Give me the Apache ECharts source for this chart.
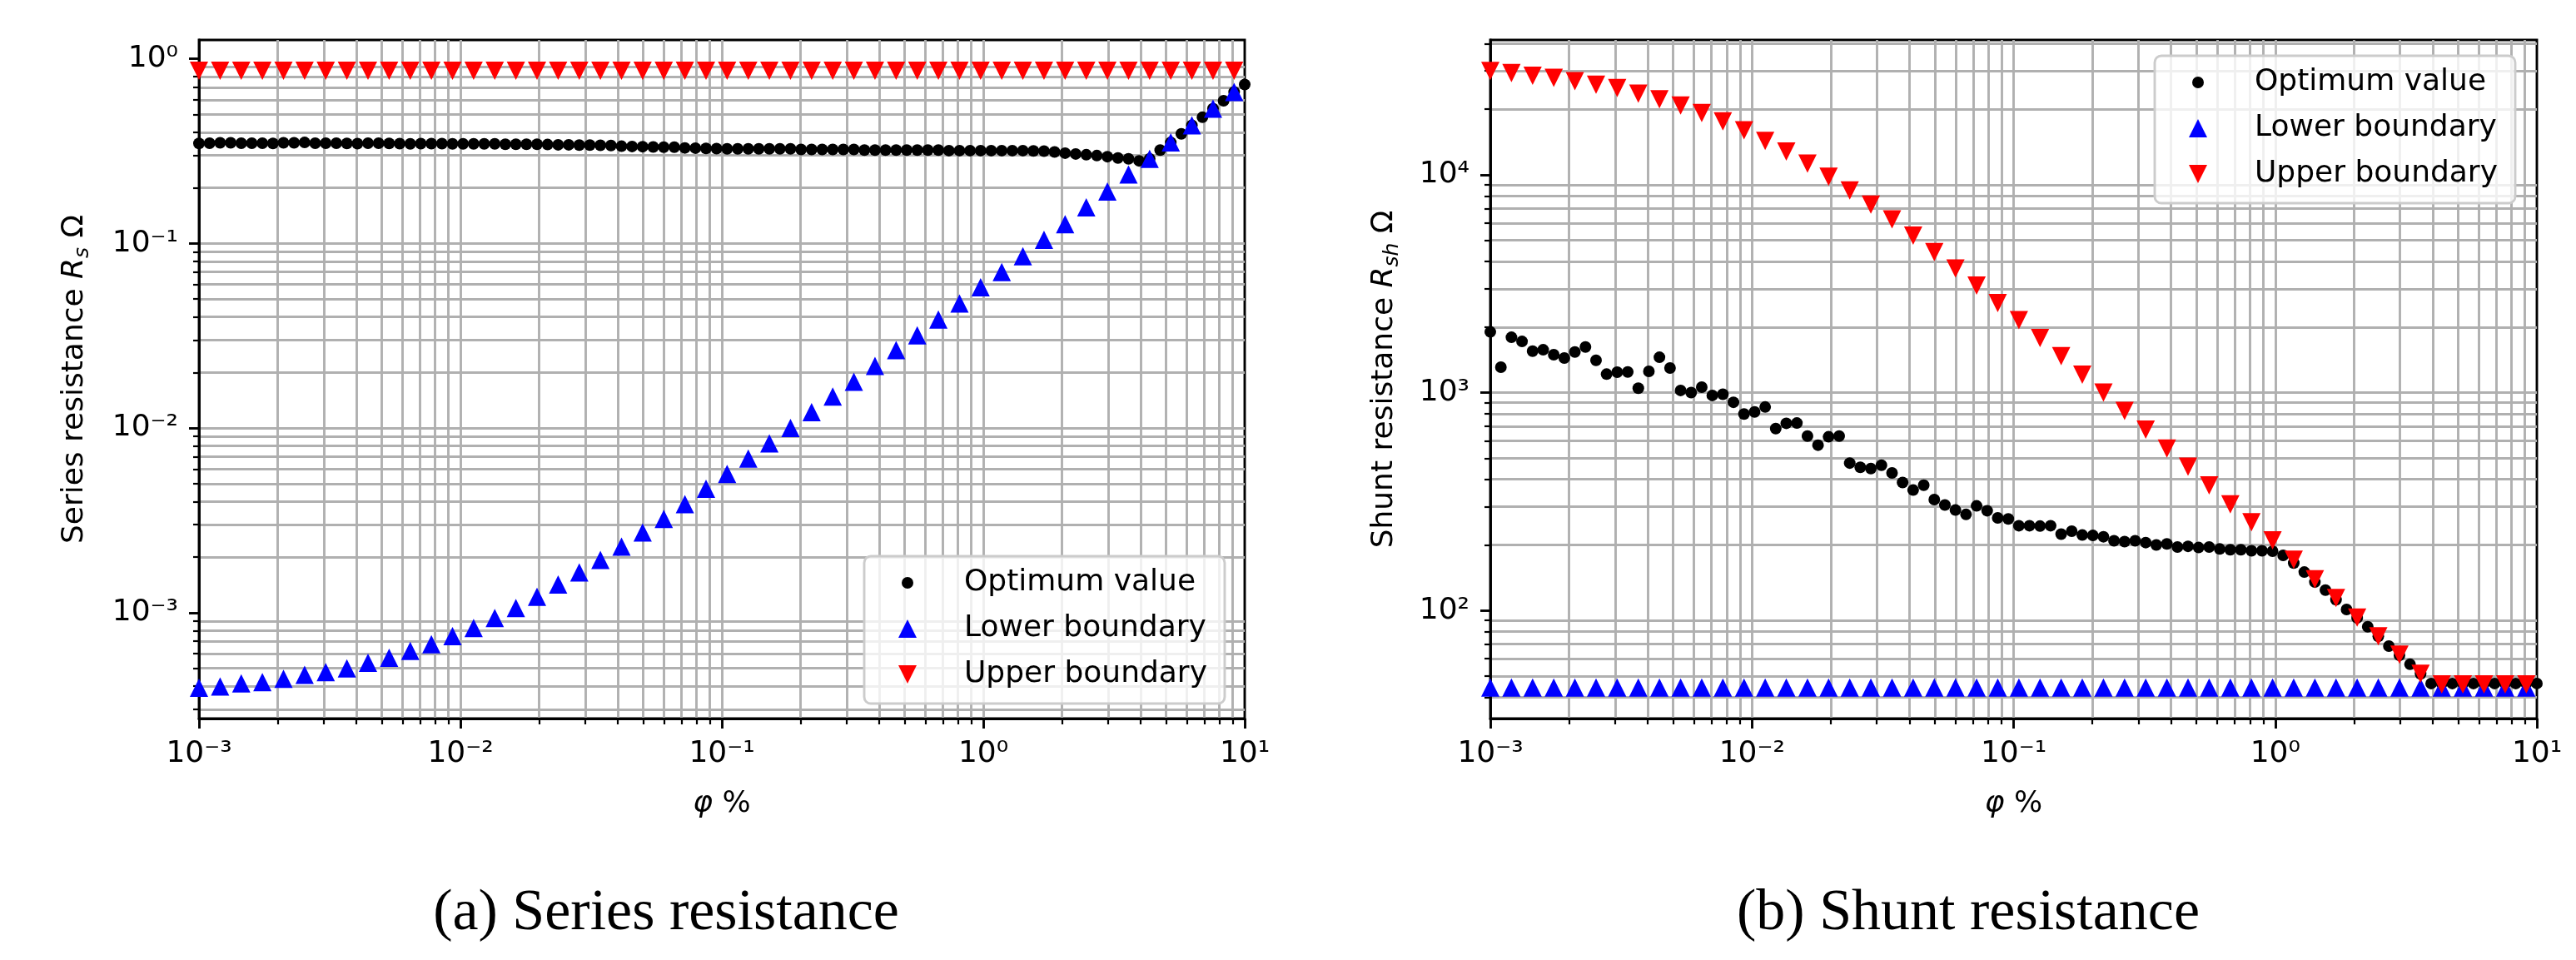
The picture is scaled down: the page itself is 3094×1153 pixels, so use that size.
<!DOCTYPE html>
<html>
<head>
<meta charset="utf-8">
<title>Series and shunt resistance</title>
<script src="https://cdn.jsdelivr.net/npm/echarts@6/dist/echarts.min.js"></script>
<style>
  html, body { margin: 0; padding: 0; background: #fff; }
  #chart { width: 3094px; height: 1153px; }
</style>
</head>
<body>
<div id="chart"></div>
<script>
// phi grid (%), 100 points evenly spaced on the log axis
const phi = [
  0.001, 0.0010975, 0.0012045, 0.0013219, 0.0014508, 0.0015923, 0.0017475, 0.0019179, 0.0021049, 0.0023101,
  0.0025354, 0.0027826, 0.0030539, 0.0033516, 0.0036784, 0.004037, 0.0044306, 0.0048626, 0.0053367, 0.005857,
  0.0064281, 0.0070548, 0.0077426, 0.0084975, 0.009326, 0.010235, 0.011233, 0.012328, 0.01353, 0.01485,
  0.016298, 0.017886, 0.01963, 0.021544, 0.023645, 0.02595, 0.02848, 0.031257, 0.034305, 0.037649,
  0.04132, 0.045349, 0.04977, 0.054623, 0.059948, 0.065793, 0.072208, 0.079248, 0.086975, 0.095455,
  0.10476, 0.11498, 0.12619, 0.13849, 0.15199, 0.16681, 0.18307, 0.20092, 0.22051, 0.24201,
  0.26561, 0.2915, 0.31993, 0.35112, 0.38535, 0.42292, 0.46416, 0.50941, 0.55908, 0.61359,
  0.67342, 0.73907, 0.81113, 0.89022, 0.97701, 1.0723, 1.1768, 1.2915, 1.4175, 1.5557,
  1.7074, 1.8738, 2.0565, 2.257, 2.4771, 2.7186, 2.9837, 3.2745, 3.5938, 3.9442,
  4.3288, 4.7508, 5.214, 5.7224, 6.2803, 6.8926, 7.5646, 8.3022, 9.1116, 10
];
// boundaries are only marked on every second phi point
const phiTri = [
  0.001, 0.0012045, 0.0014508, 0.0017475, 0.0021049, 0.0025354, 0.0030539, 0.0036784, 0.0044306, 0.0053367,
  0.0064281, 0.0077426, 0.009326, 0.011233, 0.01353, 0.016298, 0.01963, 0.023645, 0.02848, 0.034305,
  0.04132, 0.04977, 0.059948, 0.072208, 0.086975, 0.10476, 0.12619, 0.15199, 0.18307, 0.22051,
  0.26561, 0.31993, 0.38535, 0.46416, 0.55908, 0.67342, 0.81113, 0.97701, 1.1768, 1.4175,
  1.7074, 2.0565, 2.4771, 2.9837, 3.5938, 4.3288, 5.214, 6.2803, 7.5646, 9.1116
];

// (a) series resistance
const rsOpt = [
  0.348, 0.349, 0.3505, 0.3505, 0.349, 0.349, 0.349, 0.348, 0.3505, 0.3505,
  0.352, 0.349, 0.349, 0.349, 0.348, 0.347, 0.349, 0.349, 0.348, 0.347,
  0.346, 0.347, 0.347, 0.347, 0.346, 0.346, 0.346, 0.346, 0.346, 0.3445,
  0.3445, 0.3445, 0.3445, 0.343, 0.342, 0.342, 0.341, 0.341, 0.340, 0.339,
  0.336, 0.335, 0.334, 0.333, 0.332, 0.332, 0.329, 0.328, 0.327, 0.326,
  0.325, 0.325, 0.325, 0.325, 0.325, 0.325, 0.325, 0.3225, 0.3225, 0.3225,
  0.3225, 0.3225, 0.3225, 0.320, 0.320, 0.320, 0.320, 0.320, 0.320, 0.320,
  0.320, 0.318, 0.318, 0.318, 0.318, 0.318, 0.318, 0.318, 0.318, 0.317,
  0.316, 0.3126, 0.3083, 0.305, 0.302, 0.299, 0.295, 0.290, 0.287, 0.280,
  0.287, 0.320, 0.352, 0.392, 0.436, 0.482, 0.537, 0.592, 0.661, 0.725
];
const rsLow = [
  3.92e-4, 3.98e-4, 4.14e-4, 4.21e-4, 4.38e-4, 4.60e-4, 4.76e-4, 4.99e-4, 5.36e-4, 5.70e-4,
  6.21e-4, 6.75e-4, 7.47e-4, 8.26e-4, 9.35e-4, 1.06e-3, 1.22e-3, 1.42e-3, 1.65e-3, 1.93e-3,
  2.28e-3, 2.72e-3, 3.22e-3, 3.87e-3, 4.69e-3, 5.64e-3, 6.83e-3, 8.26e-3, 1.00e-2, 1.22e-2,
  1.48e-2, 1.78e-2, 2.17e-2, 2.64e-2, 3.18e-2, 3.87e-2, 4.72e-2, 5.78e-2, 7.00e-2, 8.53e-2,
  0.1045, 0.127, 0.157, 0.191, 0.236, 0.287, 0.352, 0.436, 0.537, 0.661
];
const rsUp = [
  0.86, 0.86, 0.86, 0.86, 0.86, 0.86, 0.86, 0.86, 0.86, 0.86,
  0.86, 0.86, 0.86, 0.86, 0.86, 0.86, 0.86, 0.86, 0.86, 0.86,
  0.86, 0.86, 0.86, 0.86, 0.86, 0.86, 0.86, 0.86, 0.86, 0.86,
  0.86, 0.86, 0.86, 0.86, 0.86, 0.86, 0.86, 0.86, 0.86, 0.86,
  0.86, 0.86, 0.86, 0.86, 0.86, 0.86, 0.86, 0.86, 0.86, 0.86
];

// (b) shunt resistance
const rshOpt = [
  1901, 1309, 1795, 1718, 1550, 1573, 1493, 1442, 1537, 1620,
  1407, 1216, 1241, 1245, 1048, 1252, 1453, 1297, 1024, 1000,
  1060, 971, 983, 903, 798, 815, 859, 684, 723, 725,
  632, 574, 627, 632, 475, 454, 448, 464, 428, 387,
  357, 376, 323, 305, 289, 276, 302, 287, 266, 263,
  245, 245, 244, 245, 224, 231, 222, 221, 218, 209,
  207, 209, 205, 200, 202, 195.5, 197, 194.5, 195.5, 191.5,
  190, 190, 188, 188, 187, 179, 165, 150, 135, 124,
  112, 101, 92.4, 84.2, 76.0, 68.6, 62.3, 56.6, 51.2, 46.2,
  46.2, 46.2, 46.2, 46.2, 46.2, 46.2, 46.2, 46.2, 46.2, 46.2
];
const rshLow = [
  44.3, 44.3, 44.3, 44.3, 44.3, 44.3, 44.3, 44.3, 44.3, 44.3,
  44.3, 44.3, 44.3, 44.3, 44.3, 44.3, 44.3, 44.3, 44.3, 44.3,
  44.3, 44.3, 44.3, 44.3, 44.3, 44.3, 44.3, 44.3, 44.3, 44.3,
  44.3, 44.3, 44.3, 44.3, 44.3, 44.3, 44.3, 44.3, 44.3, 44.3,
  44.3, 44.3, 44.3, 44.3, 44.3, 44.3, 44.3, 44.3, 44.3, 44.3
];
const rshUp = [
  30000, 29300, 28500, 27900, 26900, 25900, 25000, 23600, 22200, 20800,
  19200, 17600, 16000, 14300, 12800, 11250, 9800, 8480, 7290, 6240,
  5260, 4420, 3710, 3100, 2580, 2150, 1780, 1470, 1210, 1000,
  824, 676, 554, 457, 375, 307, 254, 210, 171, 139,
  114, 92.7, 76.0, 62.7, 51.2, 45.8, 45.8, 45.8, 45.8, 45.8
];

// tick positions
const xMajor = [0.001, 0.01, 0.1, 1, 10];
const xMinor = [
  0.002, 0.003, 0.004, 0.005, 0.006, 0.007, 0.008, 0.009,
  0.02, 0.03, 0.04, 0.05, 0.06, 0.07, 0.08, 0.09,
  0.2, 0.3, 0.4, 0.5, 0.6, 0.7, 0.8, 0.9,
  2, 3, 4, 5, 6, 7, 8, 9
];
const rsMajor = [0.001, 0.01, 0.1, 1];
const rsMinor = [
  0.0003, 0.0004, 0.0005, 0.0006, 0.0007, 0.0008, 0.0009,
  0.002, 0.003, 0.004, 0.005, 0.006, 0.007, 0.008, 0.009,
  0.02, 0.03, 0.04, 0.05, 0.06, 0.07, 0.08, 0.09,
  0.2, 0.3, 0.4, 0.5, 0.6, 0.7, 0.8, 0.9
];
const rshMajor = [100, 1000, 10000];
const rshMinor = [
  40, 50, 60, 70, 80, 90,
  200, 300, 400, 500, 600, 700, 800, 900,
  2000, 3000, 4000, 5000, 6000, 7000, 8000, 9000,
  20000, 30000, 40000
];

const FONT = 'DejaVu Sans';
const GRID_GRAY = '#b0b0b0';
const SUP = { '-': '⁻', '0': '⁰', '1': '¹', '2': '²', '3': '³', '4': '⁴', '5': '⁵' };

function powLabel(v) {
  let e = String(Math.round(Math.log10(v)));
  return '10' + e.split('').map(c => SUP[c]).join('');
}

function pairs(xs, ys) {
  return xs.map((x, i) => [x, ys[i]]);
}

function majorAxis(extra) {
  return Object.assign({
    type: 'log',
    logBase: 10,
    axisLine: { show: true, lineStyle: { color: '#000', width: 2.9 } },
    axisTick: { show: true, length: 12, lineStyle: { color: '#000', width: 2.9 } },
    axisLabel: {
      show: true, margin: 25, formatter: powLabel,
      fontFamily: FONT, fontSize: 36, color: '#000'
    },
    splitLine: {
      show: true, showMinLine: false, showMaxLine: false,
      lineStyle: { color: GRID_GRAY, width: 2.9 }
    },
    minorTick: { show: false },
    minorSplitLine: { show: false }
  }, extra);
}

function minorAxis(extra) {
  return Object.assign({
    type: 'log',
    logBase: 10,
    axisLine: { show: false },
    axisTick: { show: true, length: 7, lineStyle: { color: '#000', width: 2.2 } },
    axisLabel: { show: false },
    splitLine: { show: true, lineStyle: { color: GRID_GRAY, width: 2.9 } },
    minorTick: { show: false },
    minorSplitLine: { show: false }
  }, extra);
}

function withTicks(axis, ticks, labels) {
  axis.axisTick.customValues = ticks;
  if (labels) axis.axisLabel.customValues = labels;
  return axis;
}

const xName = {
  name: '{i|φ} %',
  nameLocation: 'middle',
  nameGap: 85,
  nameTextStyle: {
    fontFamily: FONT, fontSize: 36, color: '#000',
    rich: { i: { fontFamily: FONT, fontSize: 36, fontStyle: 'italic', color: '#000' } }
  }
};

function yName(label, sub, gap) {
  return {
    name: label + ' {i|R}{s|' + sub + '} Ω',
    nameLocation: 'middle',
    nameGap: gap,
    nameTextStyle: {
      fontFamily: FONT, fontSize: 36, color: '#000',
      rich: {
        i: { fontFamily: FONT, fontSize: 36, fontStyle: 'italic', color: '#000' },
        s: { fontFamily: FONT, fontSize: 25, fontStyle: 'italic', color: '#000',
             verticalAlign: 'top', padding: [20, 0, 0, 0] }
      }
    }
  };
}

const DOWN = 'path://M0,0L2,0L1,2Z';
const ICON_DOT = 'path://M0,0M74,22M4,11A7,7,0,1,1,18,11A7,7,0,1,1,4,11Z';
const ICON_UP = 'path://M0,0M74,22M11,0L22,22L0,22Z';
const ICON_DOWN = 'path://M0,0M74,22M0,0L22,0L11,22Z';

function legendAt(left, top) {
  return {
    orient: 'vertical',
    left: left, top: top,
    padding: [14, 21, 17, 41],
    itemGap: 19,
    itemWidth: 74, itemHeight: 22,
    selectedMode: false,
    backgroundColor: 'rgba(255,255,255,0.8)',
    borderColor: '#cccccc', borderWidth: 2.9, borderRadius: 8,
    textStyle: { fontFamily: FONT, fontSize: 36, color: '#000' },
    data: [
      { name: 'Optimum value', icon: ICON_DOT },
      { name: 'Lower boundary', icon: ICON_UP },
      { name: 'Upper boundary', icon: ICON_DOWN }
    ]
  };
}

function scatterSet(xi, yi, opt, low, up) {
  return [
    { name: 'Optimum value', type: 'scatter', xAxisIndex: xi, yAxisIndex: yi,
      data: pairs(phi, opt), symbol: 'circle', symbolSize: 14,
      itemStyle: { color: '#000000', opacity: 1 } },
    { name: 'Lower boundary', type: 'scatter', xAxisIndex: xi, yAxisIndex: yi,
      data: pairs(phiTri, low), symbol: 'triangle', symbolSize: 22,
      itemStyle: { color: '#0000ff', opacity: 1 } },
    { name: 'Upper boundary', type: 'scatter', xAxisIndex: xi, yAxisIndex: yi,
      data: pairs(phiTri, up), symbol: DOWN, symbolSize: 22,
      itemStyle: { color: '#ff0000', opacity: 1 } }
  ];
}

const option = {
  backgroundColor: '#ffffff',
  animation: false,
  grid: [
    { left: 239, top: 48, width: 1256, height: 815, show: true,
      borderColor: '#000', borderWidth: 2.9, backgroundColor: 'transparent' },
    { left: 1790, top: 48, width: 1257, height: 815, show: true,
      borderColor: '#000', borderWidth: 2.9, backgroundColor: 'transparent' }
  ],
  xAxis: [
    withTicks(majorAxis(Object.assign({ gridIndex: 0, position: 'bottom', min: 0.001, max: 10 }, xName)), xMajor, xMajor),
    withTicks(minorAxis({ gridIndex: 0, position: 'bottom', min: 0.001, max: 10 }), xMinor),
    withTicks(majorAxis(Object.assign({ gridIndex: 1, position: 'bottom', min: 0.001, max: 10 }, xName)), xMajor, xMajor),
    withTicks(minorAxis({ gridIndex: 1, position: 'bottom', min: 0.001, max: 10 }), xMinor)
  ],
  yAxis: [
    withTicks(majorAxis(Object.assign({ gridIndex: 0, position: 'left', min: 2.67e-4, max: 1.264 },
      yName('Series resistance', 's', 127))), rsMajor, rsMajor),
    withTicks(minorAxis({ gridIndex: 0, position: 'left', min: 2.67e-4, max: 1.264 }), rsMinor),
    withTicks(majorAxis(Object.assign({ gridIndex: 1, position: 'left', min: 31.9, max: 41600 },
      yName('Shunt resistance', 'sh', 105))), rshMajor, rshMajor),
    withTicks(minorAxis({ gridIndex: 1, position: 'left', min: 31.9, max: 41600 }), rshMinor)
  ],
  legend: [legendAt(1038, 668), legendAt(2588, 67)],
  series: [].concat(
    scatterSet(0, 0, rsOpt, rsLow, rsUp),
    scatterSet(2, 2, rshOpt, rshLow, rshUp)
  ),
  graphic: [
    { type: 'text', x: 800, y: 1098, silent: true,
      style: { text: '(a) Series resistance', fontFamily: 'Liberation Serif', fontSize: 70,
               fill: '#000', align: 'center', verticalAlign: 'middle' } },
    { type: 'text', x: 2364, y: 1098, silent: true,
      style: { text: '(b) Shunt resistance', fontFamily: 'Liberation Serif', fontSize: 70,
               fill: '#000', align: 'center', verticalAlign: 'middle' } }
  ]
};

const chart = echarts.init(document.getElementById('chart'));
chart.setOption(option);
</script>
</body>
</html>
